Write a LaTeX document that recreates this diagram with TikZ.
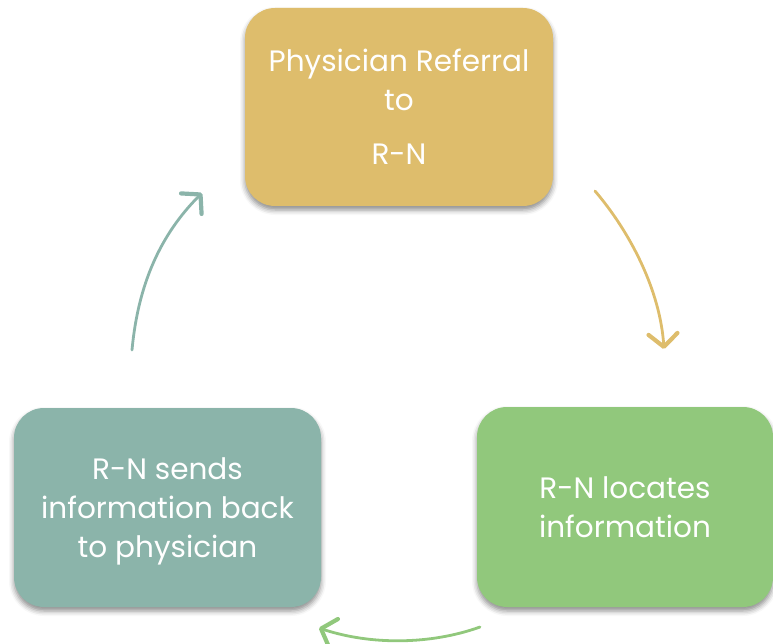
\documentclass[tikz,border=0pt]{standalone}
\usepackage{fontspec}
\setmainfont{Poppins}
\usetikzlibrary{arrows.meta,shadows.blur}
\definecolor{gold}{RGB}{222,189,108}
\definecolor{leaf}{RGB}{145,200,124}
\definecolor{sage}{RGB}{139,180,170}
\begin{document}
\begin{tikzpicture}[x=1pt,y=-1pt,
  stepbox/.style={rounded corners=30pt, inner sep=0pt, align=center,
    text=white, font=\fontsize{29.5}{39}\selectfont,
    blur shadow={shadow xshift=0pt, shadow yshift=-4pt, shadow blur radius=5pt, shadow opacity=45}},
  flow/.style={line width=2.8pt, line cap=round,
    -{Straight Barb[length=13pt,width=29pt,line width=4.2pt,round]}}]
\useasboundingbox (0,0) rectangle (773,644);
% the three stages of the referral cycle
\node[stepbox, fill=gold, minimum width=308pt, minimum height=198pt] (ref) at (399,107)
  {Physician Referral\\ to\\[15pt] R-N};
\node[stepbox, fill=leaf, minimum width=296pt, minimum height=200pt] (loc) at (625,507)
  {R-N locates\\ information};
\node[stepbox, fill=sage, minimum width=307pt, minimum height=199pt, text depth=0pt] (send) at (167.5,507.5)
  {R-N sends\\ information back\\ to physician};
% curved arrows between the stages
\coordinate (a1) at (595,191);
\coordinate (b1) at (664,349);
\coordinate (a2) at (480,627);
\coordinate (b2) at (319,628);
\coordinate (a3) at (132,350);
\coordinate (b3) at (202,193);
\draw[flow, gold] (a1) .. controls (630,232) and (660,290) .. (b1);
\draw[flow, leaf] (a2) .. controls (430,645) and (370,645) .. (b2);
\draw[flow, sage] (a3) .. controls (138,285) and (160,235) .. (b3);
\end{tikzpicture}
\end{document}
